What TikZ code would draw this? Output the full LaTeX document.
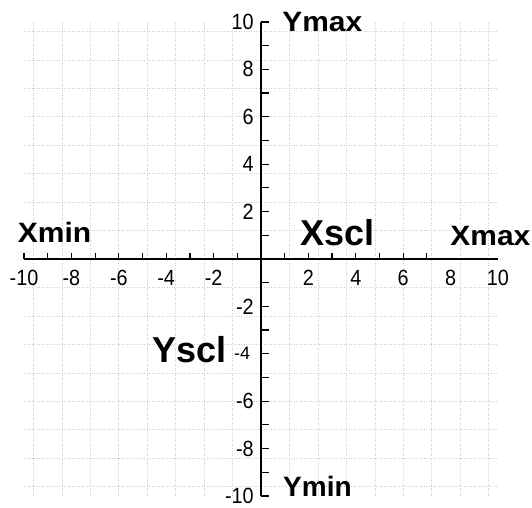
\documentclass[tikz,border=0pt]{standalone}
\usepackage{fontspec}
\setmainfont{Liberation Sans}
\begin{document}
\begin{tikzpicture}[x=23.7pt,y=23.7pt,
  gridline/.style={gray!40, dotted, line width=0.5pt},
  axisline/.style={line width=1.6pt, black},
  tickmark/.style={line width=1.2pt, black},
  ticklabel/.style={inner sep=0pt, font=\fontsize{22}{22}\selectfont},
  smalllabel/.style={inner sep=0pt, font=\fontsize{18}{18}\selectfont},
  biglabel/.style={inner sep=0pt, font=\fontsize{28}{28}\selectfont\bfseries},
  hugelabel/.style={inner sep=0pt, font=\fontsize{36}{36}\selectfont\bfseries}]
\useasboundingbox (-11.013,-10.506) rectangle (11.435,10.928);
\draw[gridline] (-10,-10) grid (10,10);
\coordinate (xl) at (-10,0);
\coordinate (xr) at (10,0);
\coordinate (yb) at (0,-10);
\coordinate (yt) at (0,10);
\draw[axisline] (xl) -- (xr);
\draw[axisline] (yb) -- (yt);
\foreach \i in {-10,...,-1,1,2,...,7} \draw[tickmark] (\i,0) -- ++(0,0.25);
\foreach \i in {-10,...,10} \draw[tickmark] (0,\i) -- ++(0.35,0);
\foreach \v in {-10,-8,-6,-4,-2,2,4,6,8,10}
  \node[ticklabel, anchor=base] (xt\v) at (\v,-1.1) {\scalebox{0.9}[1]{\v}};
\foreach \v in {10,8,6,4,2,-2,-6,-8,-10}
  \node[ticklabel, anchor=east] (yt\v) at (-0.3,\v) {\scalebox{0.9}[1]{\v}};
\node[smalllabel, anchor=east] (yt-4) at (-0.45,-4) {-4};
\node[biglabel, anchor=base] (xmin) at (-8.71,0.675) {\scalebox{1.07}[1]{Xmin}};
\node[biglabel, anchor=base] (xmax) at (9.68,0.55) {\scalebox{1.07}[1]{Xmax}};
\node[biglabel, anchor=base west] (ymax) at (0.89,9.58) {\scalebox{1.07}[1]{Ymax}};
\node[biglabel, anchor=base west] (ymin) at (0.93,-10.04) {\scalebox{1.0}[1]{Ymin}};
\node[hugelabel, anchor=base] (xscl) at (3.21,0.59) {Xscl};
\node[hugelabel, anchor=base] (yscl) at (-3.0,-4.35) {Yscl};
\end{tikzpicture}
\end{document}
